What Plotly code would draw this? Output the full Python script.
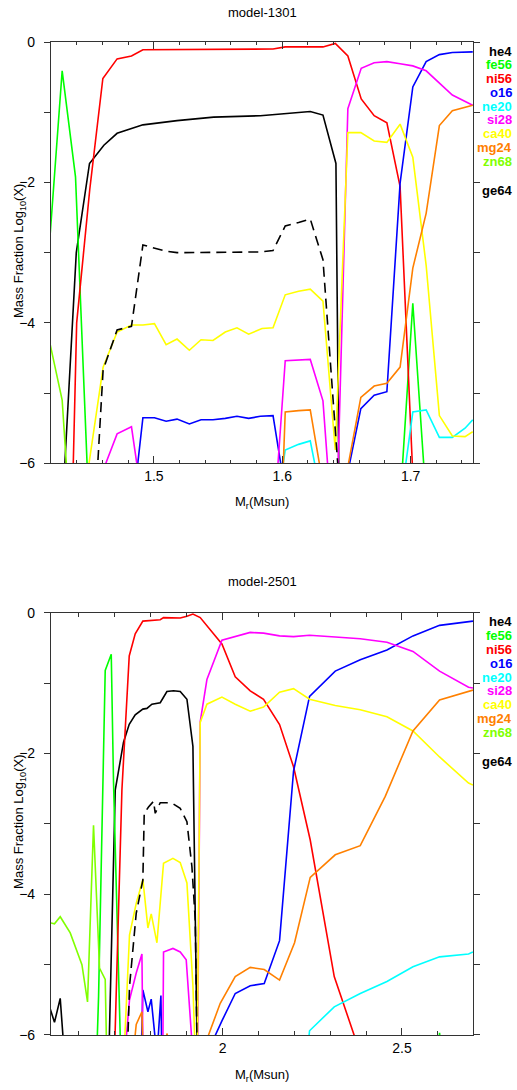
import plotly.graph_objects as go

# ---------------- model-1301 data ----------------
he4_1301_x = [1.4300, 1.4395, 1.4498, 1.4610, 1.4713, 1.4914, 1.5180, 1.5465, 1.5829, 1.6218, 1.6317, 1.6418, 1.6445]
he4_1301_y = [-6.2, -3.0, -1.73, -1.47, -1.30, -1.18, -1.12, -1.07, -1.05, -0.99, -1.04, -1.73, -7.0]

fe56_1301_x = [1.4185, 1.4285, 1.4389, 1.4490, 1.6920, 1.7017, 1.7120]
fe56_1301_y = [-2.9, -0.41, -1.92, -6.5, -6.5, -3.72, -6.5]

ni56_1301_x = [1.4365, 1.4398, 1.4500, 1.4602, 1.4713, 1.4825, 1.4914, 1.5928, 1.6023, 1.6317, 1.6413,
               1.6511, 1.6615, 1.6716, 1.6815, 1.6918, 1.7025]
ni56_1301_y = [-6.5, -4.0, -2.1, -0.52, -0.24, -0.20, -0.11, -0.10, -0.07, -0.07, -0.02,
               -0.20, -0.81, -1.05, -1.15, -2.06, -6.5]

o16_1301_x = [1.4825, 1.4914, 1.5004, 1.5095, 1.5180, 1.5276, 1.5367, 1.5460, 1.5556, 1.5647, 1.5738,
              1.5829, 1.5928, 1.6023, 1.6413, 1.6511, 1.6612, 1.6716, 1.6815, 1.6918, 1.7017, 1.7121,
              1.7224, 1.7325, 1.7484]
o16_1301_y = [-6.8, -5.35, -5.35, -5.40, -5.37, -5.44, -5.38, -5.38, -5.36, -5.33, -5.36,
              -5.33, -5.32, -6.4, -7.0, -6.1, -5.22, -5.03, -4.98, -2.01, -0.64, -0.28,
              -0.18, -0.15, -0.14]

ne20_1301_x = [1.5928, 1.6023, 1.6127, 1.6218, 1.6317, 1.6918, 1.7017, 1.7121, 1.7224, 1.7325, 1.7424, 1.7484]
ne20_1301_y = [-7.0, -5.81, -5.73, -5.68, -6.6, -6.6, -5.27, -5.24, -5.63, -5.63, -5.50, -5.38]

si28_1301_x = [1.4500, 1.4604, 1.4713, 1.4825, 1.4914, 1.5928, 1.6023, 1.6127, 1.6218, 1.6317, 1.6413,
               1.6511, 1.6615, 1.6716, 1.6815, 1.6918, 1.7017, 1.7121, 1.7224, 1.7325, 1.7484]
si28_1301_y = [-7.0, -6.1, -5.58, -5.48, -6.6, -7.0, -4.54, -4.53, -4.52, -5.11, -7.5,
               -0.95, -0.375, -0.295, -0.28, -0.31, -0.34, -0.41, -0.59, -0.755, -0.90]

ca40_1301_x = [1.4398, 1.4604, 1.4713, 1.4825, 1.4914, 1.5004, 1.5095, 1.5180, 1.5276, 1.5367, 1.5460,
               1.5556, 1.5647, 1.5738, 1.5842, 1.5928, 1.6023, 1.6127, 1.6218, 1.6317, 1.6413, 1.6511,
               1.6612, 1.6716, 1.6815, 1.6918, 1.7017, 1.7121, 1.7224, 1.7325, 1.7424, 1.7484]
ca40_1301_y = [-7.2, -4.63, -4.13, -4.03, -4.03, -4.01, -4.31, -4.23, -4.39, -4.24, -4.25,
               -4.13, -4.07, -4.16, -4.08, -4.07, -3.60, -3.55, -3.52, -3.69, -5.81, -1.29,
               -1.29, -1.41, -1.43, -1.17, -1.64, -3.18, -5.32, -5.61, -5.62, -5.55]

mg24_1301_x = [1.5928, 1.6023, 1.6127, 1.6218, 1.6317, 1.6413, 1.6511, 1.6612, 1.6716, 1.6815, 1.6918,
               1.7017, 1.7121, 1.7224, 1.7325, 1.7484]
mg24_1301_y = [-10.0, -5.27, -5.25, -5.24, -6.3, -8.0, -6.05, -5.06, -4.90, -4.86, -4.63,
               -3.22, -2.44, -1.19, -0.98, -0.90]

zn68_1301_x = [1.4185, 1.4285, 1.4389]
zn68_1301_y = [-4.25, -5.10, -8.0]

ge64_1301_x = [1.4500, 1.4604, 1.4713, 1.4825, 1.4914, 1.5004, 1.5095, 1.5180, 1.5465, 1.5829, 1.5928,
               1.6023, 1.6127, 1.6218, 1.6317, 1.6413, 1.6511]
ge64_1301_y = [-8.0, -4.67, -4.10, -4.05, -2.89, -2.94, -2.98, -3.00, -3.00, -2.99, -2.97,
               -2.62, -2.57, -2.52, -3.10, -5.81, -8.0]

# ---------------- model-2501 data ----------------
he4_2501_x = [1.5150, 1.5317, 1.5477, 1.5637, 1.6800, 1.7010, 1.7241, 1.7400, 1.7567, 1.7780, 1.7893,
              1.8032, 1.8264, 1.8450, 1.8634, 1.8821, 1.9008, 1.9175, 1.9340]
he4_2501_y = [-5.55, -5.82, -5.48, -6.6, -7.0, -2.52, -1.84, -1.585, -1.45, -1.37, -1.36,
              -1.30, -1.28, -1.12, -1.11, -1.12, -1.23, -1.90, -8.0]

fe56_2501_x = [1.6450, 1.6546, 1.6731, 1.6899, 1.6962, 1.7149, 1.7200, 2.5900, 2.6048, 2.6200]
fe56_2501_y = [-7.0, -5.45, -0.82, -0.59, -2.40, -6.0, -7.0, -7.0, -5.97, -7.0]

ni56_2501_x = [1.6950, 1.7196, 1.7400, 1.7567, 1.7780, 1.8032, 1.8264, 1.8356, 1.8634, 1.8821, 1.9008,
               1.9175, 1.9378, 1.9983, 2.0354, 2.0772, 2.1143, 2.1589, 2.1979, 2.2444, 2.3113, 2.4000]
ni56_2501_y = [-7.0, -2.52, -0.615, -0.30, -0.12, -0.11, -0.10, -0.07, -0.07, -0.075, -0.05,
               -0.02, -0.07, -0.445, -0.91, -1.11, -1.23, -1.59, -2.19, -3.23, -5.17, -6.5]

o16_2501_x = [1.7700, 1.7780, 1.7921, 1.8013, 1.8172, 1.8283, 1.8330, 1.8900, 1.9983, 2.0354, 2.0772,
              2.1162, 2.1589, 2.1979, 2.2425, 2.3141, 2.3838, 2.4582, 2.5307, 2.6048, 2.6979]
o16_2501_y = [-7.0, -5.36, -5.67, -5.49, -6.3, -5.44, -7.0, -7.0, -5.80, -5.41, -5.30,
              -5.27, -4.66, -2.25, -1.19, -0.83, -0.67, -0.53, -0.33, -0.18, -0.12]

ne20_2501_x = [2.2007, 2.2425, 2.3113, 2.3838, 2.4582, 2.5307, 2.6048, 2.6856, 2.6979]
ne20_2501_y = [-8.0, -5.94, -5.60, -5.41, -5.24, -5.03, -4.89, -4.85, -4.82]

si28_2501_x = [1.7241, 1.7408, 1.7595, 1.7754, 1.7818, 1.8300, 1.8356, 1.8618, 1.8821, 1.8988, 1.9175,
               1.9280, 1.9378, 1.9565, 1.9983, 2.0354, 2.0772, 2.1143, 2.1589, 2.1979, 2.2425, 2.3141,
               2.3838, 2.4582, 2.5307, 2.6048, 2.6856, 2.6979]
si28_2501_y = [-6.5, -5.50, -5.12, -4.85, -8.0, -9.0, -4.82, -4.77, -4.82, -4.93, -6.3,
               -8.0, -1.55, -0.95, -0.39, -0.34, -0.28, -0.29, -0.33, -0.34, -0.32, -0.345,
               -0.37, -0.42, -0.55, -0.83, -1.06, -1.07]

ca40_2501_x = [1.7100, 1.7408, 1.7595, 1.7780, 1.7921, 1.8013, 1.8172, 1.8356, 1.8618, 1.8821, 1.9008,
               1.9175, 1.9286, 1.9378, 1.9565, 1.9983, 2.0354, 2.0772, 2.1143, 2.1589, 2.1979, 2.2425,
               2.3141, 2.3838, 2.4582, 2.5307, 2.6048, 2.6856, 2.6979]
ca40_2501_y = [-8.0, -4.58, -4.13, -3.79, -4.48, -4.28, -4.69, -3.56, -3.49, -3.55, -3.84,
               -5.30, -7.0, -1.56, -1.30, -1.20, -1.30, -1.40, -1.34, -1.13, -1.08, -1.23,
               -1.32, -1.38, -1.48, -1.68, -2.05, -2.42, -2.45]

mg24_2501_x = [1.7408, 1.7595, 1.7754, 1.7800, 1.8356, 1.8450, 1.8634, 1.9175, 1.9378, 1.9936, 2.0354,
               2.0772, 2.1162, 2.1589, 2.2007, 2.2444, 2.3141, 2.3838, 2.4535, 2.5307, 2.6048, 2.6979]
mg24_2501_y = [-6.8, -5.85, -5.67, -6.6, -6.3, -5.98, -6.3, -7.0, -6.32, -5.55, -5.17,
               -5.04, -5.07, -5.22, -4.69, -3.76, -3.44, -3.31, -2.61, -1.68, -1.24, -1.10]

zn68_2501_x = [1.5150, 1.5317, 1.5477, 1.5756, 1.6082, 1.6238, 1.6405, 1.6572, 1.6731, 1.6800]
zn68_2501_y = [-4.40, -4.42, -4.32, -4.55, -5.00, -5.53, -3.02, -5.05, -5.21, -7.0]

ge64_2501_x = [1.7241, 1.7408, 1.7595, 1.7780, 1.7818, 1.7938, 1.8078, 1.8125, 1.8264, 1.8450, 1.8634,
               1.8821, 1.9008, 1.9147, 1.9240, 1.9340]
ge64_2501_y = [-8.0, -5.31, -4.27, -3.80, -2.85, -2.76, -2.68, -2.85, -2.70, -2.70, -2.72,
               -2.78, -2.97, -3.61, -4.37, -8.0]

species = ["he4", "fe56", "ni56", "o16", "ne20", "si28", "ca40", "mg24", "zn68"]
colors = ["#000000", "#00ff00", "#ff0000", "#0000ff", "#00ffff", "#ff00ff", "#ffff00", "#ff8000", "#80ff00"]

data_1301 = {
    "he4": (he4_1301_x, he4_1301_y), "fe56": (fe56_1301_x, fe56_1301_y),
    "ni56": (ni56_1301_x, ni56_1301_y), "o16": (o16_1301_x, o16_1301_y),
    "ne20": (ne20_1301_x, ne20_1301_y), "si28": (si28_1301_x, si28_1301_y),
    "ca40": (ca40_1301_x, ca40_1301_y), "mg24": (mg24_1301_x, mg24_1301_y),
    "zn68": (zn68_1301_x, zn68_1301_y), "ge64": (ge64_1301_x, ge64_1301_y),
}
data_2501 = {
    "he4": (he4_2501_x, he4_2501_y), "fe56": (fe56_2501_x, fe56_2501_y),
    "ni56": (ni56_2501_x, ni56_2501_y), "o16": (o16_2501_x, o16_2501_y),
    "ne20": (ne20_2501_x, ne20_2501_y), "si28": (si28_2501_x, si28_2501_y),
    "ca40": (ca40_2501_x, ca40_2501_y), "mg24": (mg24_2501_x, mg24_2501_y),
    "zn68": (zn68_2501_x, zn68_2501_y), "ge64": (ge64_2501_x, ge64_2501_y),
}

FONT = "Liberation Sans, Arial, sans-serif"
fig = go.Figure()

panels = [("x", "y", data_1301), ("x2", "y2", data_2501)]
for xa, ya, d in panels:
    for name, col in zip(species, colors):
        xs, ys = d[name]
        fig.add_trace(go.Scatter(x=xs, y=ys, mode="lines", xaxis=xa, yaxis=ya, name=name,
                                 line=dict(color=col, width=1.6), showlegend=False,
                                 hoverinfo="skip"))
    xs, ys = d["ge64"]
    fig.add_trace(go.Scatter(x=xs, y=ys, mode="lines", xaxis=xa, yaxis=ya, name="ge64",
                             line=dict(color="#000000", width=1.6, dash="10px,6px"),
                             showlegend=False, hoverinfo="skip"))

axis_common = dict(showgrid=False, zeroline=False, showline=True, linecolor="#333333",
                   linewidth=1.2, mirror="allticks", tickcolor="#333333",
                   tickfont=dict(family=FONT, size=14, color="#000000"))

fig.update_layout(
    width=517, height=1090,
    margin=dict(l=51, r=44, t=42, b=55),
    paper_bgcolor="white", plot_bgcolor="white",
    xaxis=dict(domain=[0, 1], anchor="y", range=[1.4198, 1.7486], tickvals=[1.5, 1.6, 1.7],
               ticktext=["1.5", "1.6", "1.7"], ticks="inside", ticklen=7, tickwidth=1,
               minor=dict(dtick=0.02, tick0=1.4, ticks="inside", ticklen=3, tickcolor="#333333"),
               **axis_common),
    yaxis=dict(domain=[0.5757, 1], anchor="x", range=[-6, 0], tickvals=[0, -2, -4, -6],
               ticktext=["0", "−2", "−4", "−6"], ticks="outside", ticklen=6, tickwidth=1,
               ticklabelstandoff=6,
               minor=dict(dtick=1, tick0=0, ticks="outside", ticklen=6, tickcolor="#333333"),
               **axis_common),
    xaxis2=dict(domain=[0, 1], anchor="y2", range=[1.522, 2.698], tickvals=[2.0, 2.5],
                ticktext=["2", "2.5"], ticks="inside", ticklen=7, tickwidth=1,
                minor=dict(dtick=0.1, tick0=1.5, ticks="inside", ticklen=4, tickcolor="#333333"),
                **axis_common),
    yaxis2=dict(domain=[0, 0.4253], anchor="x2", range=[-6, 0], tickvals=[0, -2, -4, -6],
                ticktext=["0", "−2", "−4", "−6"], ticks="outside", ticklen=6, tickwidth=1,
                ticklabelstandoff=6,
                minor=dict(dtick=1, tick0=0, ticks="outside", ticklen=6, tickcolor="#333333"),
                **axis_common),
)

annotations = []
titles = [("model-1301", 1.0302, 0.5358, 0.7895, "x", "y"),
          ("model-2501", 0.4562, -0.0403, 0.2145, "x2", "y2")]
for text, ty, xty, yty, xr, yr in titles:
    annotations.append(dict(text=text, xref="paper", yref="paper", x=0.5, y=ty,
                            xanchor="center", yanchor="middle",
                            showarrow=False, font=dict(family=FONT, size=13, color="#000000")))
    annotations.append(dict(text="M<sub>r</sub>(Msun)", xref="paper", yref="paper", x=0.5, y=xty,
                            xanchor="center", yanchor="middle",
                            showarrow=False, font=dict(family=FONT, size=13, color="#000000")))
    annotations.append(dict(text="Mass Fraction Log<sub>10</sub>(X)", xref="paper", yref="paper",
                            x=-0.076, y=yty, textangle=-90, xanchor="center", yanchor="middle",
                            showarrow=False, font=dict(family=FONT, size=13, color="#000000")))
    labels = species + ["ge64"]
    lab_colors = colors + ["#000000"]
    ypos = [-0.13 - 0.196 * i for i in range(len(species))] + [-2.12]
    for lab, col, yv in zip(labels, lab_colors, ypos):
        annotations.append(dict(text="<b>" + lab + "</b>", xref=xr + " domain", yref=yr,
                                x=1, y=yv, xanchor="right", yanchor="middle", xshift=41,
                                showarrow=False, font=dict(family=FONT, size=13, color=col)))
fig.update_layout(annotations=annotations)

fig.write_html("out.html")
